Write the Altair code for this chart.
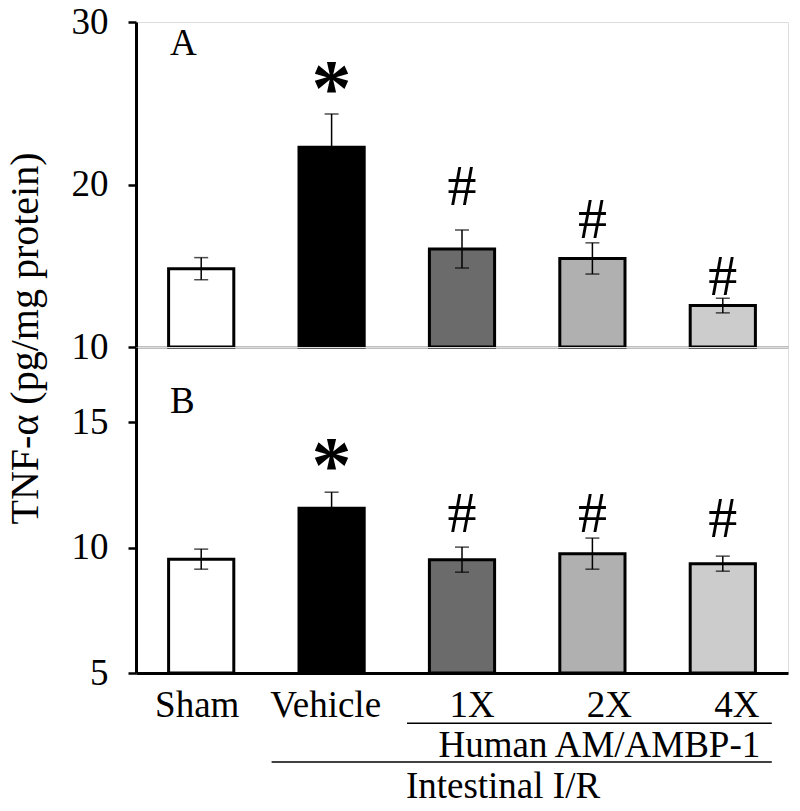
import altair as alt
import pandas as pd

groups = ["Sham", "Vehicle", "1X", "2X", "4X"]
fills = ["#ffffff", "#000000", "#6b6b6b", "#b0b0b0", "#cccccc"]

# Panel A
a_mean = [14.82, 22.30, 16.03, 15.45, 12.55]
a_sem = [0.68, 2.04, 1.17, 0.96, 0.45]
a_sig = ["*", "#", "#", "#"]
a_sig_group = ["Vehicle", "1X", "2X", "4X"]
a_sig_y = [24.30, 18.74, 16.71, 13.20]

# Panel B
b_mean = [9.54, 11.57, 9.52, 9.76, 9.36]
b_sem = [0.40, 0.64, 0.50, 0.62, 0.30]
b_sig = ["*", "#", "#", "#"]
b_sig_group = ["Vehicle", "1X", "2X", "4X"]
b_sig_y = [12.20, 10.62, 10.62, 10.42]

# small horizontal shift of the category labels, as in the original figure
label_shift = [-4, -6, 10, 17, 14]

FONT = "Liberation Serif"
FS = 37

xscale = alt.Scale(domain=groups, paddingInner=0.5, paddingOuter=0.25)

label_offset = {
    "condition": [
        {"test": f"datum.value == '{g}'", "value": s} for g, s in zip(groups, label_shift)
    ],
    "value": 0,
}


def panel(means, sems, sig, sig_group, sig_y, ydomain, yticks, letter, letter_y, bottom):
    df = pd.DataFrame({"group": groups, "mean": means, "sem": sems, "fill": fills})
    df["lo"] = df["mean"] - df["sem"]
    df["hi"] = df["mean"] + df["sem"]
    sdf = pd.DataFrame({"group": sig_group, "sig": sig, "y": sig_y})

    if bottom:
        xaxis = alt.Axis(title=None, labelAngle=0, labelFont=FONT, labelFontSize=FS,
                         labelColor="black", ticks=False, domainWidth=3,
                         domainColor="black", labelPadding=14, labelOffset=label_offset)
        yaxis = alt.Axis(title="TNF-α (pg/mg protein)", values=yticks, grid=False,
                         labelFont=FONT, labelFontSize=FS, labelColor="black",
                         labelPadding=20, tickSize=8, tickWidth=2.5, tickColor="black",
                         domainWidth=3, domainColor="black",
                         titleFont=FONT, titleFontSize=40, titleFontWeight="normal",
                         titleColor="black", titleX=-99, titleY=-9,
                         titleBaseline="alphabetic", titleAngle=270, titleAlign="center")
    else:
        xaxis = alt.Axis(title=None, labels=False, ticks=False, domainWidth=1.5,
                         domainColor="black")
        yaxis = alt.Axis(title=None, values=yticks, grid=False,
                         labelFont=FONT, labelFontSize=FS, labelColor="black",
                         labelPadding=20, tickSize=8, tickWidth=2.5, tickColor="black",
                         domainWidth=3, domainColor="black")

    x = alt.X("group:N", scale=xscale, sort=groups, axis=xaxis)
    yscale = alt.Scale(domain=ydomain, nice=False, zero=False)

    bars = alt.Chart(df).mark_bar(stroke="black", strokeWidth=3).encode(
        x=x,
        y=alt.Y("mean:Q", scale=yscale, axis=yaxis),
        y2=alt.datum(ydomain[0]),
        fill=alt.Fill("fill:N", scale=None),
    )
    err = alt.Chart(df).mark_rule(color="black", strokeWidth=1.5).encode(
        x=alt.X("group:N", scale=xscale, sort=groups),
        y=alt.Y("lo:Q", scale=yscale),
        y2="hi:Q",
    )
    cap_hi = alt.Chart(df).mark_tick(color="black", size=14, thickness=1.5).encode(
        x=alt.X("group:N", scale=xscale, sort=groups),
        y=alt.Y("hi:Q", scale=yscale),
    )
    cap_lo = alt.Chart(df).mark_tick(color="black", size=14, thickness=1.5).encode(
        x=alt.X("group:N", scale=xscale, sort=groups),
        y=alt.Y("lo:Q", scale=yscale),
    )
    star = alt.Chart(sdf[sdf.sig == "*"]).mark_text(
        font=FONT, fontSize=80, fontWeight="bold", baseline="alphabetic", color="black"
    ).encode(
        x=alt.X("group:N", scale=xscale, sort=groups),
        y=alt.Y("y:Q", scale=yscale),
        text="sig:N",
    )
    hashes = alt.Chart(sdf[sdf.sig == "#"]).mark_text(
        font=FONT, fontSize=58, baseline="alphabetic", color="black"
    ).encode(
        x=alt.X("group:N", scale=xscale, sort=groups),
        y=alt.Y("y:Q", scale=yscale),
        text="sig:N",
    )
    lab = alt.Chart(pd.DataFrame({"t": [letter]})).mark_text(
        font=FONT, fontSize=FS, align="left", baseline="alphabetic", color="black"
    ).encode(x=alt.value(34), y=alt.value(letter_y), text="t:N")

    layers = [bars, err, cap_hi, cap_lo, star, hashes, lab]

    if bottom:
        br1 = pd.DataFrame({"g1": ["1X"], "g2": ["4X"], "y": [3.0]})
        br2 = pd.DataFrame({"g1": ["Vehicle"], "g2": ["4X"], "y": [1.45]})
        t1 = pd.DataFrame({"g": ["2X"], "y": [1.65], "t": ["Human AM/AMBP-1"]})
        t2 = pd.DataFrame({"g": ["1X"], "y": [0.0], "t": ["Intestinal I/R"]})
        layers += [
            alt.Chart(br1).mark_rule(color="black", strokeWidth=1.5, xOffset=-55, x2Offset=49).encode(
                x=alt.X("g1:N", scale=xscale, sort=groups), x2="g2:N",
                y=alt.Y("y:Q", scale=yscale)),
            alt.Chart(br2).mark_rule(color="black", strokeWidth=1.5, xOffset=-60, x2Offset=49).encode(
                x=alt.X("g1:N", scale=xscale, sort=groups), x2="g2:N",
                y=alt.Y("y:Q", scale=yscale)),
            alt.Chart(t1).mark_text(font=FONT, fontSize=FS, baseline="alphabetic", dx=7, color="black").encode(
                x=alt.X("g:N", scale=xscale, sort=groups), y=alt.Y("y:Q", scale=yscale), text="t:N"),
            alt.Chart(t2).mark_text(font=FONT, fontSize=FS, baseline="alphabetic", dx=41, color="black").encode(
                x=alt.X("g:N", scale=xscale, sort=groups), y=alt.Y("y:Q", scale=yscale), text="t:N"),
        ]
    return alt.layer(*layers).properties(width=652, height=326 if bottom else 325)


top = panel(a_mean, a_sem, a_sig, a_sig_group, a_sig_y, [10, 30], [10, 20, 30], "A", 33, False)
bot = panel(b_mean, b_sem, b_sig, b_sig_group, b_sig_y, [5, 18], [5, 10, 15], "B", 66, True)

chart = alt.vconcat(top, bot, spacing=0, bounds="flush").properties(
    padding={"left": -4, "top": -6, "right": 0, "bottom": 0}
).configure_view(stroke="transparent", strokeWidth=0).configure(background="white")

chart.save("out.html", embed_options={"renderer": "svg", "actions": False})
